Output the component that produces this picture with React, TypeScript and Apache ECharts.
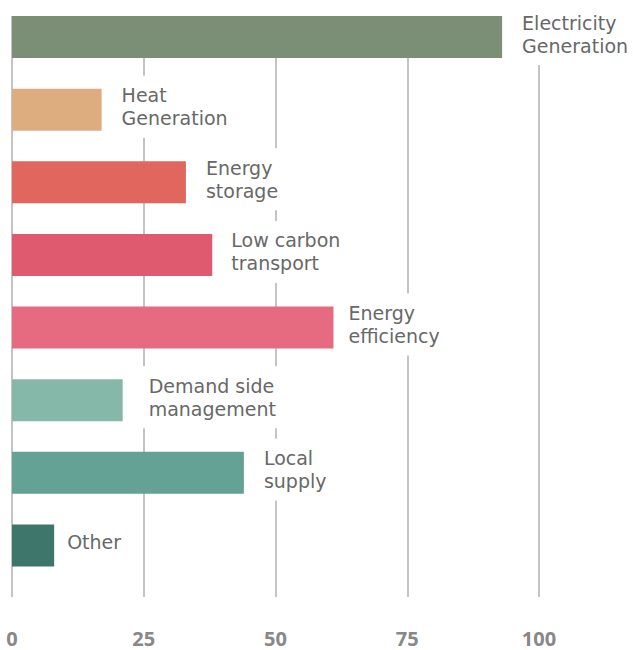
import React, { useEffect, useRef } from "react";
import * as echarts from "echarts";

const categories = [
  "Electricity\nGeneration",
  "Heat\nGeneration",
  "Energy\nstorage",
  "Low carbon\ntransport",
  "Energy\nefficiency",
  "Demand side\nmanagement",
  "Local\nsupply",
  "Other",
];
const values = [93, 17, 33, 38, 61, 21, 44, 8];
const colors = ["#7b8f77", "#ddad80", "#e0665e", "#df5a6e", "#e66a80", "#86b8aa", "#64a295", "#3e766b"];
const labelGaps = [14, 14, 14, 13, 9, 20, 14, 7];
const xTicks = [0, 25, 50, 75, 100];

export default function App() {
  const ref = useRef<HTMLDivElement>(null);
  useEffect(() => {
    document.body.style.margin = "0";
    const chart = echarts.init(ref.current!, null, { renderer: "svg" });
    const font = "'DejaVu Sans', sans-serif";
    chart.setOption({
      animation: false,
      grid: { left: 12, right: 94, top: 16, bottom: 53, containLabel: false },
      xAxis: {
        type: "value",
        min: xTicks[0],
        max: xTicks[xTicks.length - 1],
        interval: 25,
        axisLine: { show: false },
        axisTick: { show: false },
        splitLine: { show: true, lineStyle: { color: "#c4c4c4", width: 2 } },
        axisLabel: {
          margin: 31,
          fontSize: 20,
          lineHeight: 20,
          fontWeight: "bold",
          color: "#888888",
          fontFamily: "'Noto Sans', sans-serif",
        },
      },
      yAxis: {
        type: "category",
        data: categories,
        inverse: true,
        show: false,
      },
      series: [
        {
          type: "bar",
          data: values.map((v, i) => ({
            value: v,
            itemStyle: { color: colors[i] },
            label: { distance: labelGaps[i] },
          })),
          barWidth: 42,
          barGap: "0%",
          z: 3,
          label: {
            show: true,
            position: "right",
            offset: [0, -3],
            formatter: (p: any) => p.name,
            fontFamily: font,
            fontSize: 19,
            lineHeight: 23,
            color: "#686868",
            backgroundColor: "#ffffff",
            padding: [8, 6],
          },
        },
        {
          type: "bar",
          data: values.map(() => 0),
          barWidth: 30.6,
          itemStyle: { color: "transparent" },
          silent: true,
        },
      ],
    });
    return () => chart.dispose();
  }, []);
  return <div ref={ref} style={{ width: 633, height: 650 }} />;
}
